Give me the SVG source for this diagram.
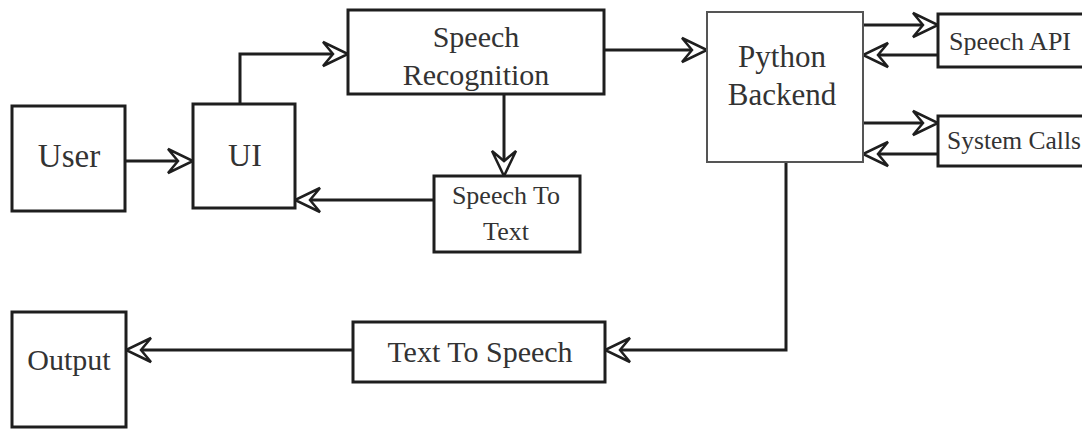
<svg xmlns="http://www.w3.org/2000/svg" width="1082" height="429" viewBox="0 0 1082 429">
  <style>
    .box { fill: #ffffff; stroke: #1e1e1e; stroke-width: 3; }
    .box.thin { stroke: #555555; stroke-width: 2; }
    .lbl { font-family: "Liberation Serif", "Times New Roman", serif; fill: #333333; text-anchor: middle; }
    .edge { fill: none; stroke: #1e1e1e; stroke-width: 3; marker-end: url(#arrow); }
  </style>
  <defs>
    <!-- hollow concave arrowhead, tip at the path end -->
    <marker id="arrow" markerUnits="userSpaceOnUse" markerWidth="32" markerHeight="32" refX="28" refY="15" orient="auto" overflow="visible">
      <path d="M3,3 L28,15 L3,27 L13,15 Z" fill="#ffffff" stroke="#1e1e1e" stroke-width="2.5" stroke-linejoin="miter"/>
    </marker>
  </defs>
  <rect width="1082" height="429" fill="#ffffff"/>

  <g id="connectors">
    <path class="edge" d="M125,161 L193,161"/>
    <path class="edge" d="M240,104 L240,54 L348,54"/>
    <path class="edge" d="M604,50 L707,50"/>
    <path class="edge" d="M504,94 L504,176"/>
    <path class="edge" d="M434,200 L295,200"/>
    <path class="edge" d="M863,25 L938,25"/>
    <path class="edge" d="M938,55 L863,55"/>
    <path class="edge" d="M863,123 L938,123"/>
    <path class="edge" d="M938,154 L863,154"/>
    <path class="edge" d="M786,162 L786,350 L605,350"/>
    <path class="edge" d="M353,350 L126,350"/>
  </g>

  <g id="user">
    <rect class="box" x="12" y="106" width="113" height="105"/>
    <text class="lbl" x="69" y="167" font-size="33">User</text>
  </g>

  <g id="ui">
    <rect class="box" x="193" y="104" width="102" height="104"/>
    <text class="lbl" x="245" y="166" font-size="32">UI</text>
  </g>

  <g id="speech-recognition">
    <rect class="box" x="348" y="10" width="256" height="84"/>
    <text class="lbl" x="476" y="47" font-size="30">Speech</text>
    <text class="lbl" x="476" y="85" font-size="30">Recognition</text>
  </g>

  <g id="speech-to-text">
    <rect class="box" x="434" y="176" width="146" height="76"/>
    <text class="lbl" x="506" y="204" font-size="26">Speech To</text>
    <text class="lbl" x="506" y="240" font-size="26">Text</text>
  </g>

  <g id="python-backend">
    <rect class="box thin" x="707" y="12" width="156" height="150"/>
    <text class="lbl" x="782" y="67" font-size="31">Python</text>
    <text class="lbl" x="782" y="105" font-size="31">Backend</text>
  </g>

  <g id="speech-api">
    <rect class="box" x="938" y="14" width="160" height="53"/>
    <text class="lbl" x="1010" y="50" font-size="26">Speech API</text>
  </g>

  <g id="system-calls">
    <rect class="box" x="938" y="116" width="160" height="50"/>
    <text class="lbl" x="1014" y="149" font-size="25.5">System Calls</text>
  </g>

  <g id="text-to-speech">
    <rect class="box" x="353" y="322" width="252" height="60"/>
    <text class="lbl" x="480" y="362" font-size="30">Text To Speech</text>
  </g>

  <g id="output">
    <rect class="box" x="12" y="312" width="114" height="115"/>
    <text class="lbl" x="69" y="370" font-size="30">Output</text>
  </g>
</svg>
